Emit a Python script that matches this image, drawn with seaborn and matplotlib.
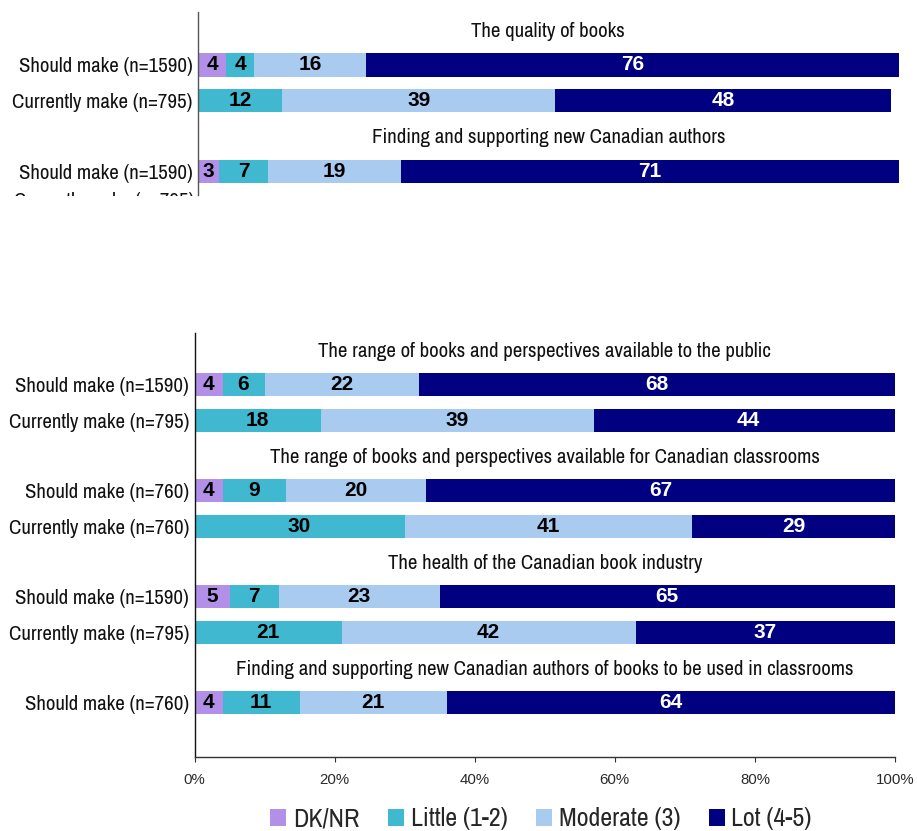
import numpy as np
import matplotlib
matplotlib.use("Agg")
import matplotlib.pyplot as plt
from matplotlib.patches import Patch, Rectangle
import matplotlib.transforms as mtransforms
import seaborn as sns

# ---- data ---------------------------------------------------------------
categories = ["DK/NR", "Little (1-2)", "Moderate (3)", "Lot (4-5)"]
colors = ["#B290E8", "#40B8D0", "#A8CBEF", "#000080"]

top_titles = ["The quality of books",
              "Finding and supporting new Canadian authors"]
top_rows = ["Should make (n=1590)", "Currently make (n=795)",
            "Should make (n=1590)"]
top_group = [0, 0, 1]
top_dk = [4, 0, 3]
top_little = [4, 12, 7]
top_moderate = [16, 39, 19]
top_lot = [76, 48, 71]
top_cut_label = "Currently make (n=795)"

bot_titles = ["The range of books and perspectives available to the public",
              "The range of books and perspectives available for Canadian classrooms",
              "The health of the Canadian book industry",
              "Finding and supporting new Canadian authors of books to be used in classrooms"]
bot_rows = ["Should make (n=1590)", "Currently make (n=795)",
            "Should make (n=760)", "Currently make (n=760)",
            "Should make (n=1590)", "Currently make (n=795)",
            "Should make (n=760)"]
bot_group = [0, 0, 1, 1, 2, 2, 3]
bot_dk = [4, 0, 4, 0, 5, 0, 4]
bot_little = [6, 18, 9, 30, 7, 21, 11]
bot_moderate = [22, 39, 20, 41, 23, 42, 21]
bot_lot = [68, 44, 67, 29, 65, 37, 64]

x_ticks = [0, 20, 40, 60, 80, 100]
x_ticklabels = ["0%", "20%", "40%", "60%", "80%", "100%"]

# ---- style --------------------------------------------------------------
sns.set_theme(style="white")
NARROW = ["Archivo Narrow", "Liberation Sans", "DejaVu Sans"]
SANS = ["Liberation Sans", "DejaVu Sans"]
plt.rcParams["font.family"] = NARROW

LABEL_FS = 15
W, H = 917, 831
fig = plt.figure(figsize=(W / 100, H / 100), dpi=100)
ax_top = fig.add_axes([198 / W, (H - 195) / H, 700.5 / W, 183 / H])
ax_bot = fig.add_axes([194.5 / W, (H - 757) / H, 700.5 / W, 424 / H])


def layout(groups):
    """Row index for each bar and each group title (title takes a row)."""
    pos, title_pos = [], []
    row = 0
    last = None
    for g in groups:
        if g != last:
            title_pos.append(row)
            row += 1
            last = g
        pos.append(row)
        row += 1
    return np.array(pos, dtype=float), title_pos


def draw_panel(ax, titles, rows, groups, dk, little, moderate, lot):
    ypos, tpos = layout(groups)
    vals = np.column_stack([dk, little, moderate, lot]).astype(float)
    cum = np.cumsum(vals, axis=1)
    # Longest cumulative bar first, then shorter ones on top
    for k in reversed(range(len(categories))):
        sns.barplot(x=cum[:, k], y=ypos, orient="y", native_scale=True,
                    width=0.65, color=colors[k], saturation=1,
                    errorbar=None, linewidth=0, ax=ax)
    for i, y in enumerate(ypos):
        left = 0.0
        for k in range(len(categories)):
            v = vals[i, k]
            if v > 0:
                ax.text(left + v / 2, y, f"{int(v)}", ha="center",
                        va="center", fontsize=15, fontweight="bold",
                        family=SANS,
                        color="white" if k == 3 else "black")
            left += v
    for t, y in zip(titles, tpos):
        ax.text(50, y, t, ha="center", va="center_baseline",
                fontsize=LABEL_FS, color="#111111")
    ax.set_yticks(ypos)
    ax.set_yticklabels(rows, fontsize=LABEL_FS, color="#111111")
    ax.tick_params(axis="y", length=0, pad=4)
    ax.set_xlim(0, 100)
    ax.set_xlabel("")
    ax.set_ylabel("")
    for s in ("top", "right"):
        ax.spines[s].set_visible(False)
    return ypos


# ---- top panel ----------------------------------------------------------
draw_panel(ax_top, top_titles, top_rows, top_group,
           top_dk, top_little, top_moderate, top_lot)
ax_top.set_ylim(4.672, -0.497)
ax_top.spines["bottom"].set_visible(False)
ax_top.spines["left"].set_color("#555555")
ax_top.spines["left"].set_linewidth(1.0)
ax_top.set_xticks([])

# Label of the next row, cut off at the panel's lower edge
cut_trans = mtransforms.offset_copy(ax_top.get_yaxis_transform(), fig=fig,
                                    x=-4, y=7, units="dots")
cut = ax_top.text(0, 5, top_cut_label, transform=cut_trans, ha="right",
                  va="center_baseline", fontsize=LABEL_FS, color="#111111",
                  clip_on=True)
cut.set_clip_path(Rectangle((0, (H - 196) / H), 0.3, 0.1,
                            transform=fig.transFigure))

# ---- bottom panel -------------------------------------------------------
draw_panel(ax_bot, bot_titles, bot_rows, bot_group,
           bot_dk, bot_little, bot_moderate, bot_lot)
ax_bot.set_ylim(11.53, -0.47)
ax_bot.spines["left"].set_color("#111111")
ax_bot.spines["bottom"].set_color("#333333")
ax_bot.spines["left"].set_linewidth(1.0)
ax_bot.spines["bottom"].set_linewidth(1.0)
ax_bot.set_xticks(x_ticks)
ax_bot.set_xticklabels(x_ticklabels)
ax_bot.tick_params(axis="x", length=3.5, width=0.8, color="#333333",
                   pad=8, bottom=True, direction="out")
for lbl in ax_bot.get_xticklabels():
    lbl.set_fontfamily(SANS)
    lbl.set_fontsize(10.8)
    lbl.set_color("#2a2a2a")

# ---- legend -------------------------------------------------------------
handles = [Patch(facecolor=c, edgecolor="none", label=l)
           for c, l in zip(colors, categories)]
fig.legend(handles=handles, loc="center", ncol=4, frameon=False,
           bbox_to_anchor=(541 / W, (H - 819) / H),
           prop={"family": NARROW, "size": 18.7},
           handlelength=0.62, handleheight=0.62, handletextpad=0.25,
           columnspacing=1.1, borderpad=0, borderaxespad=0)

fig.savefig("out.png", dpi=100)
